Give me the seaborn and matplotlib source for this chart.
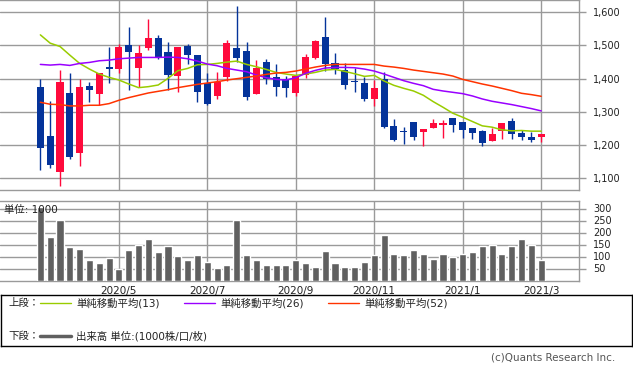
"""Weekly candlestick chart with moving averages and volume."""

import numpy as np
import pandas as pd
import matplotlib
matplotlib.use('Agg')
import matplotlib.pyplot as plt
import seaborn as sns

# weekly OHLC (2020/3 .. 2021/3)
opens = [1375, 1226, 1120, 1357, 1177, 1378, 1354, 1435, 1430, 1502, 1432, 1493, 1523,
         1481, 1409, 1499, 1471, 1386, 1349, 1406, 1493, 1484, 1355, 1450, 1405, 1400,
         1358, 1411, 1463, 1526, 1447, 1426, 1392, 1387, 1340, 1399, 1258, 1242, 1270,
         1238, 1252, 1261, 1282, 1270, 1252, 1243, 1213, 1241, 1273, 1237, 1225, 1225]
highs = [1399, 1333, 1426, 1417, 1399, 1390, 1417, 1496, 1505, 1556, 1502, 1580, 1532,
         1511, 1496, 1503, 1471, 1417, 1420, 1517, 1619, 1511, 1456, 1459, 1444, 1408,
         1409, 1474, 1517, 1586, 1478, 1447, 1433, 1406, 1396, 1420, 1279, 1255, 1270,
         1249, 1279, 1276, 1282, 1270, 1252, 1246, 1252, 1267, 1282, 1246, 1240, 1234]
lows = [1126, 1132, 1078, 1159, 1138, 1331, 1320, 1387, 1417, 1366, 1376, 1487, 1459,
        1366, 1361, 1444, 1331, 1322, 1339, 1394, 1451, 1337, 1355, 1385, 1349, 1345,
        1349, 1403, 1458, 1424, 1415, 1370, 1361, 1334, 1319, 1253, 1213, 1204, 1214,
        1198, 1252, 1222, 1240, 1222, 1218, 1198, 1213, 1219, 1219, 1216, 1210, 1210]
closes = [1192, 1141, 1390, 1165, 1375, 1367, 1417, 1429, 1496, 1481, 1478, 1523, 1465,
          1412, 1496, 1471, 1361, 1324, 1390, 1508, 1463, 1346, 1432, 1400, 1376, 1372,
          1409, 1465, 1514, 1445, 1430, 1382, 1390, 1340, 1372, 1255, 1216, 1238, 1225,
          1249, 1267, 1267, 1261, 1246, 1237, 1207, 1234, 1267, 1232, 1223, 1216, 1234]

# moving averages as drawn
ma13 = [1532, 1507, 1497, 1471, 1446, 1429, 1414, 1404, 1396, 1384, 1373, 1376, 1381,
        1401, 1424, 1431, 1442, 1443, 1446, 1450, 1453, 1443, 1436, 1428, 1419, 1414,
        1410, 1414, 1419, 1426, 1428, 1422, 1415, 1407, 1410, 1393, 1380, 1371, 1363,
        1350, 1331, 1314, 1296, 1284, 1271, 1258, 1254, 1246, 1243, 1244, 1242, 1242]
ma26 = [1443, 1441, 1443, 1440, 1446, 1449, 1454, 1456, 1460, 1462, 1464, 1464, 1464,
        1465, 1464, 1460, 1453, 1444, 1439, 1431, 1426, 1421, 1411, 1403, 1398, 1396,
        1403, 1416, 1425, 1432, 1434, 1434, 1433, 1429, 1423, 1414, 1404, 1394, 1386,
        1379, 1368, 1363, 1359, 1355, 1348, 1339, 1332, 1327, 1322, 1316, 1310, 1303]
ma52 = [1329, 1323, 1322, 1318, 1318, 1320, 1320, 1325, 1335, 1343, 1350, 1357, 1362,
        1367, 1373, 1378, 1383, 1387, 1391, 1396, 1400, 1404, 1408, 1413, 1417, 1419,
        1423, 1429, 1435, 1440, 1443, 1443, 1443, 1443, 1443, 1438, 1435, 1431, 1426,
        1422, 1418, 1414, 1408, 1398, 1391, 1384, 1378, 1371, 1364, 1356, 1352, 1347]

# volume (1000 shares)
volume = [305, 180, 254, 138, 133, 87, 75, 92, 50, 129, 150, 175, 117,
          142, 104, 85, 105, 76, 51, 63, 251, 105, 85, 63, 63, 63,
          85, 72, 55, 122, 72, 55, 55, 76, 105, 189, 109, 105, 126,
          109, 88, 112, 100, 112, 117, 142, 150, 112, 142, 175, 146, 87]

month_idx = [8, 17, 26, 34, 43, 51]
month_labels = ['2020/5', '2020/7', '2020/9', '2020/11', '2021/1', '2021/3']
price_ticks = [1100, 1200, 1300, 1400, 1500, 1600]
vol_ticks = [50, 100, 150, 200, 250, 300]

UP = '#ff0a3c'
DOWN = '#04339a'
GRID = '#9a9a9a'
TXT = '#222222'

sns.set_theme(style='white')
plt.rcParams['font.family'] = ['DejaVu Sans', 'Noto Sans CJK JP']

W, H = 633, 372


def box(x0, y0, x1, y1):
    """Pixel box (top-left origin) to figure fraction rect."""
    return [x0 / W, 1 - y1 / H, (x1 - x0) / W, (y1 - y0) / H]


df = pd.DataFrame({
    'week': np.arange(len(opens)),
    'open': opens, 'high': highs, 'low': lows, 'close': closes,
    'ma13': ma13, 'ma26': ma26, 'ma52': ma52, 'volume': volume,
})
df['color'] = np.where(df['close'] >= df['open'], UP, DOWN)

fig = plt.figure(figsize=(W / 100, H / 100), dpi=100)
fig.patch.set_facecolor('white')

ax_p = fig.add_axes(box(0, 0, 579, 190))
ax_v = fig.add_axes(box(0, 201.3, 579, 280.5))
ax_l = fig.add_axes(box(0.5, 295, 632, 346))

xlim = (-4.11, 54.85)

# --- price panel ---
ax_p.vlines(df['week'], df['low'], df['high'], colors=df['color'], lw=1.0, zorder=3)
body_lo = df[['open', 'close']].min(axis=1)
body_h = (df['open'] - df['close']).abs().clip(lower=1.5)
ax_p.bar(df['week'], body_h, bottom=body_lo, width=0.72, color=df['color'],
         linewidth=0, zorder=4)

sns.lineplot(data=df, x='week', y='ma13', color='#99cc00', lw=1.1, ax=ax_p, zorder=5)
sns.lineplot(data=df, x='week', y='ma26', color='#9900ff', lw=1.1, ax=ax_p, zorder=5)
sns.lineplot(data=df, x='week', y='ma52', color='#ff3300', lw=1.1, ax=ax_p, zorder=5)

ax_p.set_xlim(*xlim)
ax_p.set_ylim(1064.8, 1637)
ax_p.set_yticks(price_ticks)
ax_p.set_yticklabels([f'{v:,}' for v in price_ticks])
ax_p.set_xticks(month_idx)
ax_p.set_xticklabels([])
ax_p.set_xlabel('')
ax_p.set_ylabel('')

# --- volume panel ---
sns.barplot(data=df, x='week', y='volume', native_scale=True, color='#606060',
            saturation=1, width=0.72, ax=ax_v, zorder=3)
ax_v.set_xlim(*xlim)
ax_v.set_ylim(0, 330)
ax_v.set_yticks(vol_ticks)
ax_v.set_xticks(month_idx)
ax_v.set_xticklabels(month_labels)
ax_v.set_xlabel('')
ax_v.set_ylabel('')
ax_v.text(4 / 579, 1 - 8.5 / 79.2, '単位: 1000', transform=ax_v.transAxes,
          fontsize=7.5, color=TXT, va='center', ha='left', zorder=10)

for ax in (ax_p, ax_v):
    ax.set_axisbelow(True)
    ax.grid(True, color=GRID, lw=1.0)
    ax.yaxis.tick_right()
    ax.tick_params(axis='y', which='both', right=True, left=False, length=5,
                   color=GRID, width=1.0, labelsize=7, labelcolor=TXT, pad=5)
    ax.tick_params(axis='x', length=0, labelsize=7.5, labelcolor=TXT, pad=4)
    for side in ('top', 'right', 'bottom'):
        ax.spines[side].set_color(GRID)
        ax.spines[side].set_linewidth(1.0)
    ax.spines['left'].set_visible(False)

# --- legend box ---
ax_l.set_xlim(0, 632)
ax_l.set_ylim(346, 295)
ax_l.set_xticks([])
ax_l.set_yticks([])
for s in ax_l.spines.values():
    s.set_color('black')
    s.set_linewidth(1.0)

legend_items = [('#99cc00', '単純移動平均(13)', 40),
                ('#9900ff', '単純移動平均(26)', 184),
                ('#ff3300', '単純移動平均(52)', 328)]
ax_l.text(8, 303, '上段：', fontsize=7.5, color=TXT, va='center')
for col, label, x0 in legend_items:
    ax_l.plot([x0, x0 + 31], [303, 303], color=col, lw=1.0)
    ax_l.text(x0 + 36, 303, label, fontsize=7.5, color=TXT, va='center')
ax_l.text(8, 336, '下段：', fontsize=7.5, color=TXT, va='center')
ax_l.plot([40, 71], [336, 336], color='#606060', lw=2.5)
ax_l.text(76, 336, '出来高 単位:(1000株/口/枚)', fontsize=7.5, color=TXT, va='center')

fig.text(615 / W, 1 - 358 / H, '(c)Quants Research Inc.', fontsize=7.5,
         color='#555555', ha='right', va='center')

fig.savefig('out.png', dpi=100)
plt.close(fig)
